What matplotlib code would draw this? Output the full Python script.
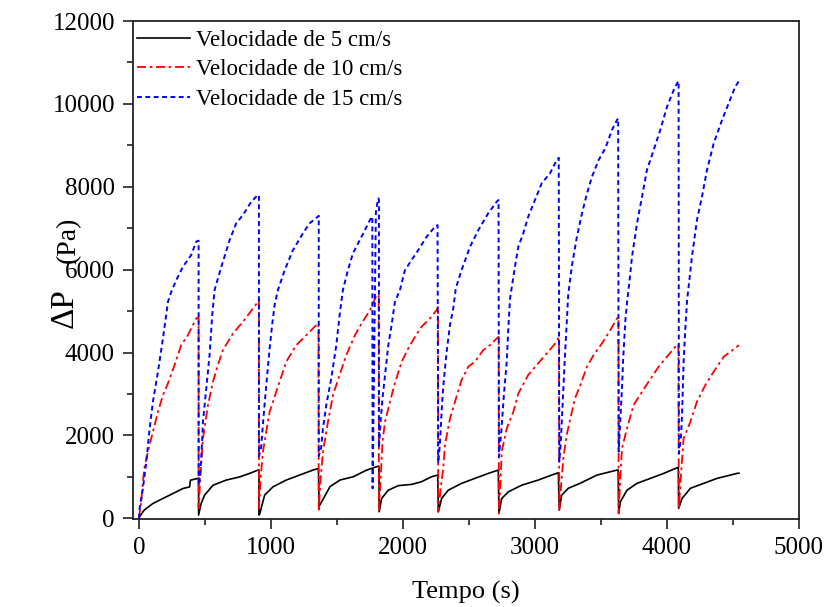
"""
Pressure drop against time for three filtration velocities
"""
import numpy as np
import matplotlib
matplotlib.use("Agg")
import matplotlib.pyplot as plt
from matplotlib.ticker import MultipleLocator

# velocidade de 5 cm/s
t_5 = [0, 5, 40, 106, 207, 333, 384, 390, 447, 452,
       452, 470, 497, 561, 662, 763, 838, 902, 909,
       909, 915, 952, 1015, 1116, 1217, 1318, 1360,
       1362, 1366, 1384, 1447, 1523, 1624, 1725, 1813, 1818,
       1820, 1838, 1889, 1965, 2066, 2141, 2217, 2263,
       2268, 2293, 2343, 2444, 2545, 2646, 2722,
       2727, 2748, 2798, 2899, 3025, 3126, 3177,
       3184, 3202, 3252, 3341, 3470, 3621, 3630,
       3634, 3647, 3697, 3773, 3874, 3975, 4076, 4086,
       4088, 4114, 4177, 4278, 4379, 4480, 4530, 4545]
p_5 = [0, 40, 200, 360, 520, 720, 760, 920, 965, 970,
       80, 350, 560, 800, 925, 1000, 1085, 1165, 1170,
       80, 110, 560, 760, 925, 1045, 1165, 1205,
       700, 300, 400, 765, 925, 1005, 1165, 1260, 1260,
       160, 480, 680, 790, 820, 885, 1005, 1045,
       160, 480, 680, 845, 965, 1085, 1165,
       120, 480, 640, 800, 925, 1045, 1100,
       200, 560, 725, 845, 1045, 1165, 1170,
       120, 400, 680, 845, 965, 1085, 1220, 1230,
       240, 480, 725, 845, 965, 1045, 1085, 1090]

# velocidade de 10 cm/s
t_10 = [0, 17, 40, 68, 106, 144, 182, 220, 270, 320, 371, 434, 452,
        452, 465, 485, 523, 561, 598, 636, 712, 788, 864, 902, 909,
        909, 920, 939, 990, 1040, 1116, 1192, 1268, 1331, 1360,
        1362, 1375, 1394, 1432, 1470, 1520, 1571, 1636, 1687, 1750, 1795, 1816,
        1818, 1830, 1845, 1864, 1902, 1939, 1990, 2040, 2091, 2141, 2205, 2255, 2265,
        2267, 2285, 2305, 2318, 2356, 2394, 2444, 2495, 2545, 2608, 2646, 2710, 2725,
        2727, 2738, 2748, 2786, 2836, 2874, 2949, 3013, 3089, 3164, 3182,
        3184, 3198, 3215, 3240, 3303, 3343, 3394, 3444, 3508, 3571, 3621, 3632,
        3634, 3645, 3659, 3697, 3747, 3811, 3861, 3937, 4000, 4063, 4086,
        4090, 4105, 4126, 4177, 4227, 4290, 4354, 4430, 4530, 4545]
p_10 = [0, 400, 1200, 1610, 2090, 2570, 2975, 3260, 3700, 4180, 4420, 4825, 4850,
        240, 1000, 1930, 2735, 3300, 3700, 4060, 4460, 4745, 5065, 5225, 5270,
        240, 900, 1610, 2570, 3055, 3780, 4180, 4420, 4625, 4705,
        160, 900, 1610, 2330, 2975, 3460, 3940, 4420, 4705, 5025, 5350, 5400,
        200, 900, 1850, 2330, 2815, 3260, 3780, 4100, 4380, 4625, 4825, 5025, 5100,
        160, 700, 1205, 1770, 2410, 2815, 3340, 3660, 3780, 4060, 4140, 4340, 4380,
        120, 800, 1610, 2170, 2570, 3015, 3460, 3700, 3980, 4260, 4380,
        200, 800, 1450, 2010, 2895, 3215, 3660, 3940, 4225, 4545, 4825, 4850,
        120, 900, 1690, 2170, 2735, 3055, 3300, 3660, 3900, 4140, 4200,
        240, 1000, 1930, 2330, 2815, 3215, 3540, 3900, 4140, 4180]

# velocidade de 15 cm/s
t_15 = [0, 5, 30, 56, 81, 106, 144, 182, 220, 245, 283, 333, 396, 434, 452,
        452, 462, 472, 485, 510, 535, 555, 573, 624, 687, 737, 788, 851, 894, 909,
        909, 925, 945, 967, 990, 1010, 1028, 1053, 1104, 1167, 1242, 1293, 1356, 1362,
        1362, 1380, 1394, 1419, 1457, 1495, 1520, 1545, 1583, 1621, 1699, 1750, 1768,
        1770, 1795, 1812, 1818,
        1818, 1830, 1845, 1864, 1889, 1914, 1939, 1977, 2015, 2066, 2116, 2179, 2242, 2262,
        2267, 2280, 2295, 2306, 2330, 2356, 2381, 2400, 2444, 2508, 2571, 2646, 2710, 2724,
        2727, 2745, 2765, 2786, 2798, 2811, 2848, 2874, 2911, 2949, 3000, 3051, 3114, 3152, 3180,
        3184, 3195, 3210, 3225, 3240, 3252, 3280, 3318, 3356, 3394, 3432, 3482, 3533, 3583, 3621, 3630,
        3634, 3645, 3659, 3667, 3684, 3697, 3715, 3735, 3773, 3811, 3848, 3899, 3949, 4000, 4051, 4076, 4088,
        4090, 4105, 4114, 4126, 4139, 4152, 4164, 4189, 4227, 4265, 4303, 4354, 4417, 4467, 4517, 4545]
p_15 = [0, 240, 720, 1370, 2170, 2815, 3540, 4345, 5225, 5470, 5750, 6070, 6355, 6675, 6700,
        800, 1000, 1450, 2330, 3135, 3940, 4900, 5510, 6070, 6715, 7120, 7320, 7640, 7780, 7800,
        1500, 1700, 2500, 3300, 4100, 4700, 5150, 5510, 5990, 6475, 6875, 7120, 7280, 7300,
        1500, 1700, 2170, 2735, 3380, 4180, 4900, 5510, 5990, 6395, 6875, 7200, 7280,
        725, 7400, 7720, 7700,
        1700, 2300, 2900, 3460, 4180, 4665, 5225, 5510, 5990, 6235, 6475, 6795, 7035, 7075,
        1330, 1800, 2700, 3215, 4000, 4665, 5065, 5550, 5990, 6555, 6955, 7360, 7640, 7680,
        1490, 2100, 3000, 3780, 4585, 5300, 6070, 6555, 6875, 7280, 7680, 8085, 8325, 8565, 8700,
        1370, 1800, 2800, 3800, 4700, 5400, 6100, 6800, 7360, 7840, 8245, 8645, 8930, 9370, 9610, 9650,
        1610, 2300, 3135, 3780, 4745, 5200, 5700, 6310, 7120, 7760, 8405, 8885, 9370, 9930, 10335, 10495, 10550,
        1570, 1900, 2500, 3780, 4585, 5250, 5590, 6310, 7200, 7760, 8405, 9050, 9610, 10015, 10415, 10550]

labels = ["Velocidade de 5 cm/s", "Velocidade de 10 cm/s", "Velocidade de 15 cm/s"]

plt.rcParams["font.family"] = ["Liberation Serif", "DejaVu Serif"]

fig = plt.figure(figsize=(8.29, 6.07), dpi=100)
ax = fig.add_axes([133 / 829, 88 / 607, 666 / 829, 498 / 607])

ax.plot(t_5, p_5, color="black", lw=1.2, label=labels[0])
ax.plot(t_10, p_10, color="red", lw=1.3, dashes=(5, 2, 1.5, 2), label=labels[1])
ax.plot(t_15, p_15, color="blue", lw=1.4, dashes=(2.5, 1.8), label=labels[2])

ax.set_xlim(-45, 5000)
ax.set_ylim(-15, 12000)
ax.xaxis.set_major_locator(MultipleLocator(1000))
ax.xaxis.set_minor_locator(MultipleLocator(500))
ax.yaxis.set_major_locator(MultipleLocator(2000))
ax.yaxis.set_minor_locator(MultipleLocator(1000))
ax.tick_params(which="both", direction="out", top=False, right=False,
               labelsize=18, width=1.2, color="#222222")
ax.tick_params(which="major", length=7, pad=6)
ax.tick_params(which="minor", length=4.5)
for sp in ax.spines.values():
    sp.set_linewidth(1.3)
    sp.set_color("#222222")

fig.text(466 / 829, 1 - 592 / 607, "Tempo (s)", fontsize=19,
         ha="center", va="center")
fig.text(65 / 829, 1 - 308 / 607, "ΔP", fontsize=24, rotation=90,
         ha="center", va="center")
fig.text(68 / 829, 1 - 240 / 607, "(Pa)", fontsize=20, rotation=90,
         ha="center", va="center")

ax.legend(loc="upper left", bbox_to_anchor=(0.0, 1 - 5 / 498), frameon=False,
          fontsize=16.5, handlelength=2.3, handletextpad=0.28,
          labelspacing=0.36, borderaxespad=0.0, borderpad=0.18)

fig.savefig("out.png", dpi=100)
